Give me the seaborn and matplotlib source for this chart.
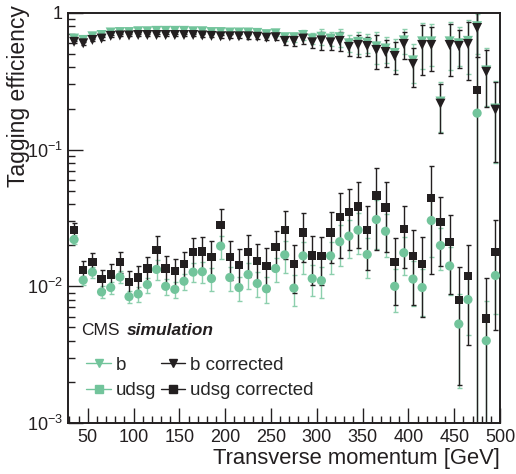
import numpy as np
import matplotlib
matplotlib.use("Agg")
import matplotlib.pyplot as plt
from matplotlib.lines import Line2D
from matplotlib.ticker import FixedLocator, MultipleLocator, NullFormatter
import seaborn as sns

# bin centres [GeV]
pt = [35, 45, 55, 65, 75, 85, 95, 105, 115, 125, 135, 145, 155, 165, 175, 185,
      195, 205, 215, 225, 235, 245, 255, 265, 275, 285, 295, 305, 315, 325, 335,
      345, 355, 365, 375, 385, 395, 405, 415, 425, 435, 445, 455, 465, 475, 485, 495]

# b-jet efficiency
b_eff = [0.65, 0.635, 0.675, 0.69, 0.72, 0.725, 0.725, 0.735, 0.735, 0.74, 0.74, 0.74,
         0.74, 0.735, 0.735, 0.725, 0.725, 0.72, 0.72, 0.72, 0.715, 0.70, 0.71, 0.665,
         0.665, 0.69, 0.65, 0.67, 0.65, 0.665, 0.60, 0.615, 0.605, 0.57, 0.55, 0.51,
         0.63, 0.45, 0.62, 0.62, 0.225, 0.62, 0.60, 0.625, 0.80, 0.38, 0.20]
b_err = [0.012, 0.012, 0.012, 0.012, 0.012, 0.012, 0.012, 0.013, 0.013, 0.014, 0.014, 0.015,
         0.015, 0.016, 0.017, 0.018, 0.019, 0.021, 0.023, 0.025, 0.027, 0.03, 0.032, 0.04,
         0.05, 0.06, 0.06, 0.09, 0.075, 0.10, 0.085, 0.11, 0.095, 0.15, 0.12, 0.13,
         0.13, 0.14, 0.23, 0.21, 0.09, 0.24, 0.19, 0.27, 0.30, 0.17, 0.12]

b_corr = [0.615, 0.60, 0.635, 0.65, 0.68, 0.685, 0.685, 0.69, 0.69, 0.69, 0.69, 0.69,
          0.69, 0.69, 0.685, 0.68, 0.675, 0.675, 0.675, 0.675, 0.67, 0.66, 0.665, 0.625,
          0.625, 0.65, 0.61, 0.63, 0.61, 0.625, 0.565, 0.584, 0.574, 0.537, 0.519, 0.485,
          0.594, 0.424, 0.584, 0.584, 0.217, 0.584, 0.574, 0.594, 0.777, 0.371, 0.196]
b_corr_err = [0.012, 0.012, 0.012, 0.012, 0.012, 0.012, 0.012, 0.013, 0.013, 0.014, 0.014, 0.015,
              0.015, 0.016, 0.017, 0.018, 0.019, 0.021, 0.023, 0.025, 0.027, 0.03, 0.032, 0.04,
              0.05, 0.06, 0.06, 0.09, 0.075, 0.10, 0.08, 0.11, 0.09, 0.15, 0.115, 0.125,
              0.13, 0.135, 0.23, 0.21, 0.085, 0.24, 0.18, 0.27, 0.30, 0.165, 0.115]

# light-flavour mistag rate
udsg_eff = [0.0220, 0.0111, 0.0127, 0.0091, 0.0098, 0.0117, 0.0084, 0.0088, 0.0103, 0.0133,
            0.0100, 0.0095, 0.0109, 0.0127, 0.0128, 0.0114, 0.0197, 0.0116, 0.0098, 0.0122,
            0.0105, 0.0096, 0.0135, 0.0170, 0.0097, 0.0167, 0.0114, 0.0110, 0.0167, 0.0212,
            0.0233, 0.0258, 0.0171, 0.0308, 0.0253, 0.0100, 0.0176, 0.0113, 0.0098, 0.0303,
            0.0199, 0.0141, 0.0053, 0.0080, 0.185, 0.0040, 0.0120]
udsg_err = [0.0016, 0.0009, 0.0011, 0.0009, 0.0010, 0.0012, 0.0009, 0.0011, 0.0013, 0.0022,
            0.0014, 0.0013, 0.0015, 0.0020, 0.0022, 0.0022, 0.0038, 0.0023, 0.0020, 0.0026,
            0.0022, 0.0021, 0.0027, 0.0044, 0.0025, 0.0043, 0.0029, 0.0028, 0.0044, 0.0070,
            0.0073, 0.0085, 0.0055, 0.0120, 0.0088, 0.0035, 0.0055, 0.0041, 0.0037, 0.0140,
            0.0068, 0.0054, 0.0035, 0.0036, 0.80, 0.0038, 0.0057]

udsg_corr = [0.0258, 0.0132, 0.0151, 0.0113, 0.0122, 0.0151, 0.0108, 0.0116, 0.0135, 0.0184,
             0.0135, 0.0129, 0.0145, 0.0178, 0.0180, 0.0164, 0.0282, 0.0164, 0.0144, 0.0178,
             0.0154, 0.0141, 0.0195, 0.0258, 0.0145, 0.0248, 0.0168, 0.0166, 0.0248, 0.0321,
             0.0351, 0.0384, 0.0258, 0.0462, 0.0377, 0.0150, 0.0262, 0.0166, 0.0145, 0.0444,
             0.0297, 0.0210, 0.0079, 0.0119, 0.274, 0.0058, 0.0178]
udsg_corr_err = [0.0035, 0.0020, 0.0025, 0.0019, 0.0023, 0.0026, 0.0021, 0.0025, 0.0028, 0.0050,
                 0.0032, 0.0030, 0.0033, 0.0046, 0.0050, 0.0050, 0.0088, 0.0052, 0.0045, 0.0060,
                 0.0050, 0.0049, 0.0061, 0.0100, 0.0056, 0.0098, 0.0065, 0.0063, 0.0101, 0.0160,
                 0.0167, 0.0194, 0.0126, 0.0277, 0.0200, 0.0077, 0.0125, 0.0093, 0.0085, 0.0320,
                 0.0155, 0.0122, 0.0060, 0.0082, 0.90, 0.0057, 0.0130]

green = "#72c49b"
green_bar = "#8ccfad"
black = "#231f20"

sns.set_theme(style="ticks")
plt.rcParams["font.family"] = ["Liberation Sans", "DejaVu Sans"]
plt.rcParams["mathtext.fontset"] = "custom"
plt.rcParams["mathtext.rm"] = "Liberation Sans"
plt.rcParams["mathtext.it"] = "Liberation Sans:italic"

fig = plt.figure(figsize=(5.16, 4.74), dpi=100)
ax = fig.add_axes([0.132, 0.1076, 0.837, 0.865])

series = [
    (b_eff, b_err, green, green_bar, "v", 52),
    (udsg_eff, udsg_err, green, green_bar, "o", 44),
    (b_corr, b_corr_err, black, black, "v", 52),
    (udsg_corr, udsg_corr_err, black, black, "s", 36),
]
for vals, errs, col, bcol, mk, size in series:
    ax.errorbar(pt, vals, yerr=errs, fmt="none", ecolor=bcol, elinewidth=1.0,
                capsize=1.8, capthick=1.0)
    sns.scatterplot(x=pt, y=vals, marker=mk, color=col, s=size, edgecolor="none",
                    linewidth=0, ax=ax, zorder=3)

ax.set_yscale("log", nonpositive="clip")
ax.set_xlim(28.5, 500)
ax.set_ylim(1e-3, 1)

ax.yaxis.set_major_locator(FixedLocator([1e-3, 1e-2, 1e-1, 1]))
ax.set_yticklabels(["10$^{-3}$", "10$^{-2}$", "10$^{-1}$", "1"])
ax.yaxis.set_minor_locator(FixedLocator([m * 10.0 ** e for e in (-3, -2, -1)
                                          for m in range(2, 10)]))
ax.yaxis.set_minor_formatter(NullFormatter())
ax.xaxis.set_major_locator(MultipleLocator(50))
ax.xaxis.set_minor_locator(MultipleLocator(10))

ax.tick_params(which="both", direction="in", top=False, right=False,
               labelsize=13, colors=black, width=1.0)
ax.tick_params(which="major", length=11, pad=4)
ax.tick_params(which="minor", length=5)
for sp in ax.spines.values():
    sp.set_linewidth(1.4)
    sp.set_color(black)

ax.set_xlabel("Transverse momentum [GeV]", fontsize=15.8, loc="right", labelpad=2, color=black)
ax.set_ylabel("Tagging efficiency", fontsize=16.5, loc="top", color=black)
ax.yaxis.set_label_coords(-0.088, 1.02)

ax.text(0.03, 0.215, "CMS", transform=ax.transAxes, fontsize=12.5, color=black)
ax.text(0.136, 0.215, "simulation", transform=ax.transAxes, fontsize=12.5,
        fontweight="bold", fontstyle="italic", color=black)

handles = [
    Line2D([], [], color=green, marker="v", markersize=6, lw=1.0),
    Line2D([], [], color=green, marker="s", markersize=6, lw=1.0),
    Line2D([], [], color=black, marker="v", markersize=6, lw=1.0),
    Line2D([], [], color=black, marker="s", markersize=6, lw=1.0),
]
labels = ["b", "udsg", "b corrected", "udsg corrected"]
ax.legend(handles, labels, ncol=2, loc="lower left", bbox_to_anchor=(0.025, 0.04),
          frameon=False, fontsize=13.5, handlelength=1.3, handletextpad=0.25,
          columnspacing=0.25, labelspacing=0.45, borderaxespad=0)

fig.savefig("out.png", dpi=100)
